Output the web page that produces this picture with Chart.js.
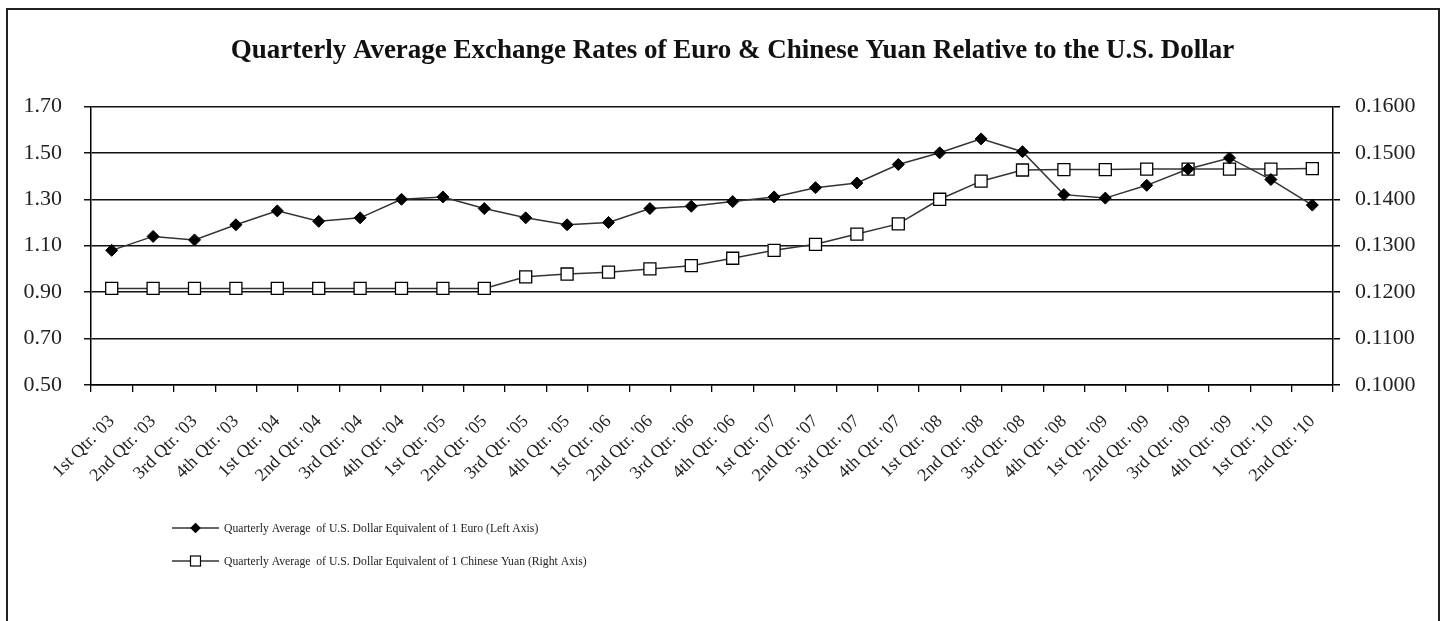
<!DOCTYPE html>
<html>
<head>
<meta charset="utf-8">
<script src="https://cdn.jsdelivr.net/npm/chart.js@4/dist/chart.umd.min.js"></script>
<style>
  html, body { margin: 0; padding: 0; background: #fff; }
  #wrap { position: relative; width: 1445px; height: 621px; }
</style>
</head>
<body>
<div id="wrap"><canvas id="c" width="1445" height="621"></canvas></div>
<script>
const titleText = "Quarterly Average Exchange Rates of Euro & Chinese Yuan Relative to the U.S. Dollar";
const categories = [
  "1st Qtr. '03", "2nd Qtr. '03", "3rd Qtr. '03", "4th Qtr. '03",
  "1st Qtr. '04", "2nd Qtr. '04", "3rd Qtr. '04", "4th Qtr. '04",
  "1st Qtr. '05", "2nd Qtr. '05", "3rd Qtr. '05", "4th Qtr. '05",
  "1st Qtr. '06", "2nd Qtr. '06", "3rd Qtr. '06", "4th Qtr. '06",
  "1st Qtr. '07", "2nd Qtr. '07", "3rd Qtr. '07", "4th Qtr. '07",
  "1st Qtr. '08", "2nd Qtr. '08", "3rd Qtr. '08", "4th Qtr. '08",
  "1st Qtr. '09", "2nd Qtr. '09", "3rd Qtr. '09", "4th Qtr. '09",
  "1st Qtr. '10", "2nd Qtr. '10"
];
const euroLabel = "Quarterly Average  of U.S. Dollar Equivalent of 1 Euro (Left Axis)";
const yuanLabel = "Quarterly Average  of U.S. Dollar Equivalent of 1 Chinese Yuan (Right Axis)";
const euroValues = [
  1.08, 1.14, 1.125, 1.19,
  1.25, 1.205, 1.22, 1.30,
  1.31, 1.26, 1.22, 1.19,
  1.20, 1.26, 1.27, 1.29,
  1.31, 1.35, 1.37, 1.45,
  1.50, 1.56, 1.505, 1.32,
  1.305, 1.36, 1.43, 1.478,
  1.385, 1.275
];
const yuanValues = [
  0.1208, 0.1208, 0.1208, 0.1208,
  0.1208, 0.1208, 0.1208, 0.1208,
  0.1208, 0.1208, 0.1233, 0.1239,
  0.1243, 0.1250, 0.1257, 0.1273,
  0.1290, 0.1303, 0.1325, 0.1347,
  0.1400, 0.1439, 0.1463, 0.1464,
  0.1464, 0.1465, 0.1465, 0.1465,
  0.1465, 0.1466
];
const leftTicks = [0.50, 0.70, 0.90, 1.10, 1.30, 1.50, 1.70];
const rightTicks = [0.1000, 0.1100, 0.1200, 0.1300, 0.1400, 0.1500, 0.1600];

const SERIF = "'Liberation Serif', 'Times New Roman', serif";

const framePlugin = {
  id: 'frame',
  beforeDraw(chart) {
    const ctx = chart.ctx;
    ctx.save();
    ctx.fillStyle = '#fff';
    ctx.fillRect(0, 0, chart.width, chart.height);
    ctx.strokeStyle = '#222';
    ctx.lineWidth = 2;
    ctx.strokeRect(7, 9, 1432, 700);
    ctx.restore();
  }
};

const legendPlugin = {
  id: 'stackedLegend',
  afterDraw(chart) {
    const ctx = chart.ctx;
    const startX = 172, lineLen = 47, textX = 224;
    const rows = [528, 561];
    ctx.save();
    chart.data.datasets.forEach((ds, i) => {
      const y = rows[i];
      ctx.strokeStyle = ds.borderColor;
      ctx.lineWidth = 1.5;
      ctx.beginPath();
      ctx.moveTo(startX, y);
      ctx.lineTo(startX + lineLen, y);
      ctx.stroke();
      const cx = startX + lineLen / 2;
      ctx.fillStyle = ds.pointBackgroundColor;
      ctx.strokeStyle = ds.pointBorderColor;
      ctx.lineWidth = 1.2;
      if (ds.pointStyle === 'rectRot') {
        const r = 4.5;
        ctx.beginPath();
        ctx.moveTo(cx, y - r); ctx.lineTo(cx + r, y); ctx.lineTo(cx, y + r); ctx.lineTo(cx - r, y);
        ctx.closePath(); ctx.fill(); ctx.stroke();
      } else {
        const s = 10;
        ctx.fillRect(cx - s / 2, y - s / 2, s, s);
        ctx.strokeRect(cx - s / 2, y - s / 2, s, s);
      }
      ctx.fillStyle = '#222';
      ctx.font = "11.7px " + SERIF;
      ctx.textBaseline = 'middle';
      ctx.textAlign = 'left';
      ctx.fillText(ds.label, textX, y + 1);
    });
    ctx.restore();
  }
};

new Chart(document.getElementById('c'), {
  type: 'line',
  data: {
    labels: categories,
    datasets: [
      {
        label: euroLabel,
        data: euroValues,
        yAxisID: 'yL',
        borderColor: '#333',
        borderWidth: 1.5,
        pointStyle: 'rectRot',
        pointRadius: 6,
        pointBackgroundColor: '#000',
        pointBorderColor: '#000',
        pointBorderWidth: 1,
        tension: 0,
        fill: false
      },
      {
        label: yuanLabel,
        data: yuanValues,
        yAxisID: 'yR',
        borderColor: '#333',
        borderWidth: 1.5,
        pointStyle: 'rect',
        pointRadius: 8.5,
        pointBackgroundColor: '#fff',
        pointBorderColor: '#000',
        pointBorderWidth: 1.3,
        tension: 0,
        fill: false
      }
    ]
  },
  options: {
    responsive: false,
    animation: false,
    devicePixelRatio: 1,
    layout: { padding: { left: 20, right: 0, top: 0, bottom: 136 } },
    plugins: {
      legend: { display: false },
      tooltip: { enabled: false },
      title: {
        display: true,
        text: titleText,
        color: '#111',
        font: { family: SERIF, size: 27, weight: 'bold' },
        padding: { top: 35, bottom: 39 }
      }
    },
    scales: {
      x: {
        type: 'category',
        offset: true,
        grid: { offset: true, drawOnChartArea: false, drawTicks: true, tickLength: 7, color: '#000', lineWidth: 1.3 },
        border: { display: true, color: '#000', width: 1.5 },
        ticks: {
          autoSkip: false, minRotation: 45, maxRotation: 45, padding: 19,
          color: '#222', font: { family: SERIF, size: 18 }
        },
        afterFit(scale) { scale.height = 100; }
      },
      yL: {
        position: 'left',
        min: 0.5, max: 1.7,
        afterBuildTicks(scale) { scale.ticks = leftTicks.map(v => ({ value: v })); },
        grid: { drawOnChartArea: true, drawTicks: true, tickLength: 7, color: '#111', lineWidth: 1.5 },
        border: { display: true, color: '#000', width: 1.5 },
        ticks: {
          padding: 22, color: '#222', font: { family: SERIF, size: 22 },
          callback: v => Number(v).toFixed(2)
        },
        afterFit(scale) { scale.width = 71; }
      },
      yR: {
        position: 'right',
        min: 0.1, max: 0.16,
        afterBuildTicks(scale) { scale.ticks = rightTicks.map(v => ({ value: v })); },
        grid: { drawOnChartArea: false, drawTicks: true, tickLength: 7, color: '#000', lineWidth: 1.5 },
        border: { display: true, color: '#000', width: 1.5 },
        ticks: {
          padding: 15, color: '#222', font: { family: SERIF, size: 22 },
          callback: v => Number(v).toFixed(4)
        },
        afterFit(scale) { scale.width = 112; }
      }
    }
  },
  plugins: [framePlugin, legendPlugin]
});
</script>
</body>
</html>
